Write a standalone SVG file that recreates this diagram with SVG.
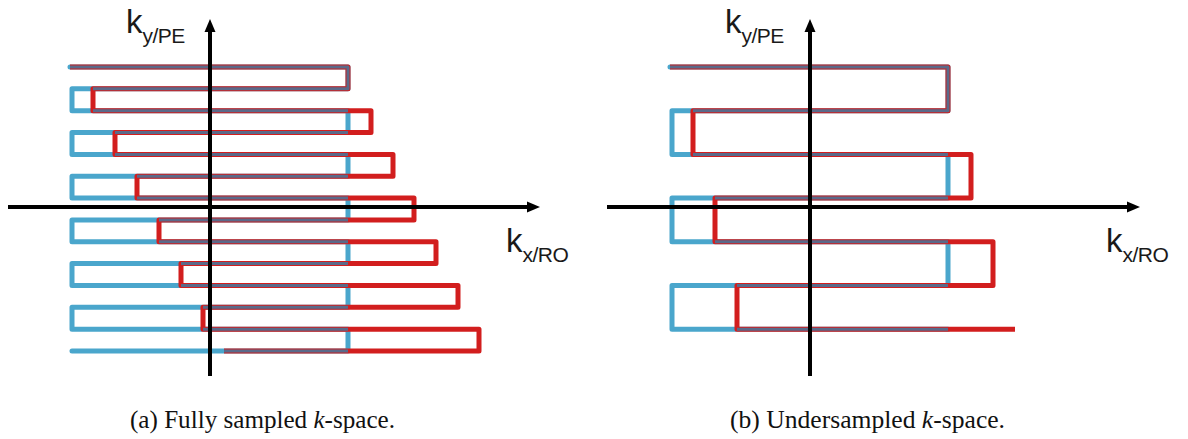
<svg xmlns="http://www.w3.org/2000/svg" width="1188" height="439" viewBox="0 0 1188 439">
<style>
.blue{fill:none;stroke:#4aa6cc;stroke-width:5;stroke-linejoin:round;stroke-linecap:round}
.red{fill:none;stroke:#d21e1e;stroke-width:5;stroke-linejoin:round;stroke-linecap:butt}
.shared{fill:none;stroke:#5a6a8a;stroke-width:3;stroke-linejoin:round}
.axis{stroke:#000;stroke-width:4}
.head{fill:#000}
.lbl{font-family:"Liberation Sans",Arial,sans-serif;fill:#1a1a1a}
.cap{font-family:"Liberation Serif","DejaVu Serif",serif;font-size:25px;fill:#111}
</style>
<rect width="1188" height="439" fill="#fff"/>
<g id="connectors">
<g id="traj-a">
<path class="blue" d="M70,67 H348 V88.85 H72 V110.7 H348 V132.5 H72 V154.4 H348 V176.2 H72 V198.1 H348 V220 H72 V241.8 H348 V263.6 H72 V285.5 H348 V307.3 H72 V329.2 H348 V351 H72"/>
<path class="red" d="M70,67 H348 V88.85 H93 V110.7 H371 V132.5 H115 V154.4 H393 V176.2 H137 V198.1 H414 V220 H159 V241.8 H436 V263.6 H181 V285.5 H458 V307.3 H203 V329.2 H479 V351 H224"/>
<path class="shared" d="M70,67 H348 V88.85 H93 M93,110.7 H348 M115,132.5 H348 M115,154.4 H348 M137,176.2 H348 M137,198.1 H348 M159,220 H348 M159,241.8 H348 M181,263.6 H348 M181,285.5 H348 M203,307.3 H348 M203,329.2 H348 M224,351 H348"/>
</g>
<g id="traj-b">
<path class="blue" d="M670,67 H948 V110.7 H672 V154.4 H948 V198.1 H672 V241.8 H948 V285.5 H672 V329.2 H948"/>
<path class="red" d="M670,67 H948 V110.7 H693 V154.4 H971 V198.1 H715 V241.8 H993 V285.5 H737 V329.2 H1015"/>
<path class="shared" d="M670,67 H948 V110.7 H693 M693,154.4 H948 M715,198.1 H948 M715,241.8 H948 M737,285.5 H948 M737,329.2 H948"/>
</g>
<g id="axes-a">
<line class="axis" x1="8" y1="207" x2="530" y2="207"/>
<polygon class="head" points="540,207 527,201.5 527,212.5"/>
<line class="axis" x1="210" y1="376" x2="210" y2="30"/>
<polygon class="head" points="210,19 204.5,32 215.5,32"/>
</g>
<g id="axes-b">
<line class="axis" x1="607" y1="207" x2="1130" y2="207"/>
<polygon class="head" points="1140,207 1127,201.5 1127,212.5"/>
<line class="axis" x1="810" y1="376" x2="810" y2="30"/>
<polygon class="head" points="810,19 804.5,32 815.5,32"/>
</g>
</g>
<g id="label-ky-a"><text class="lbl" x="126" y="33" font-size="33">k<tspan font-size="21" dy="10" letter-spacing="-0.5">y/PE</tspan></text></g>
<g id="label-kx-a"><text class="lbl" x="506" y="252" font-size="33">k<tspan font-size="21" dy="10" letter-spacing="-0.5">x/RO</tspan></text></g>
<g id="label-ky-b"><text class="lbl" x="725" y="33" font-size="33">k<tspan font-size="21" dy="10" letter-spacing="-0.5">y/PE</tspan></text></g>
<g id="label-kx-b"><text class="lbl" x="1106" y="252" font-size="33">k<tspan font-size="21" dy="10" letter-spacing="-0.5">x/RO</tspan></text></g>
<g id="caption-a"><text class="cap" x="130" y="428" textLength="265" lengthAdjust="spacingAndGlyphs">(a) Fully sampled <tspan font-style="italic">k</tspan>-space.</text></g>
<g id="caption-b"><text class="cap" x="730" y="428" textLength="275" lengthAdjust="spacingAndGlyphs">(b) Undersampled <tspan font-style="italic">k</tspan>-space.</text></g>
</svg>
